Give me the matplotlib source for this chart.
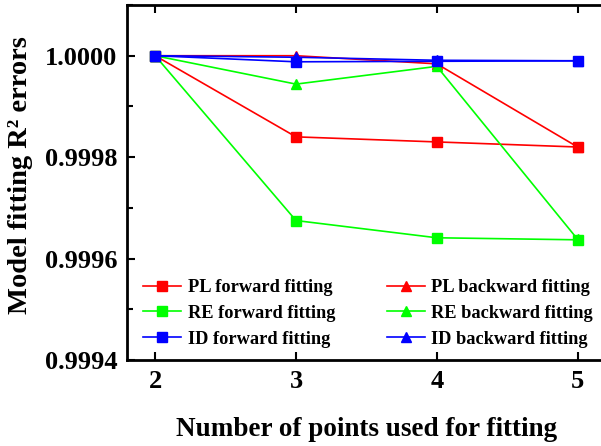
import matplotlib
matplotlib.use("Agg")
import matplotlib.pyplot as plt
from matplotlib.ticker import MultipleLocator

plt.rcParams['font.family'] = ['Liberation Serif', 'DejaVu Serif']
plt.rcParams['font.weight'] = 'bold'

points = [2, 3, 4, 5]
pl_forward = [1.0, 0.99984, 0.99983, 0.99982]
pl_backward = [1.0, 1.0, 0.999984, 0.99982]
re_forward = [1.0, 0.999675, 0.999641, 0.999637]
re_backward = [1.0, 0.999944, 0.999979, 0.999638]
id_forward = [1.0, 0.999988, 0.999989, 0.99999]
id_backward = [1.0, 0.999997, 0.999991, 0.99999]

fig = plt.figure(figsize=(6.01, 4.46), dpi=100)
ax = fig.add_axes([127/601, 86/446, 483/601, 355/446])

series = [
    (pl_forward, 'red', 's', 'PL forward fitting'),
    (pl_backward, 'red', '^', 'PL backward fitting'),
    (re_forward, '#00ff00', 's', 'RE forward fitting'),
    (re_backward, '#00ff00', '^', 'RE backward fitting'),
    (id_forward, 'blue', 's', 'ID forward fitting'),
    (id_backward, 'blue', '^', 'ID backward fitting'),
]
for vals, col, mk, lab in series:
    ax.plot(points, vals, color=col, marker=mk, markersize=7.5, linewidth=1.2, label=lab)

ax.set_xlim(1.8, 5.23)
ax.set_ylim(0.9994, 1.0001)
ax.set_xticks(points)
ax.yaxis.set_major_locator(MultipleLocator(0.0002))
ax.yaxis.set_minor_locator(MultipleLocator(0.0001))
ax.set_yticklabels([f'{v:.4f}' for v in ax.get_yticks()])
ax.tick_params(which='both', direction='in', top=True, right=True, width=1.5)
ax.tick_params(which='major', length=6, labelsize=19)
ax.tick_params(axis='y', which='major', pad=7)
ax.tick_params(axis='x', which='major', pad=7)
ax.tick_params(which='minor', length=4)
for s in ax.spines.values():
    s.set_linewidth(2)

ax.set_xlabel('Number of points used for fitting', fontsize=19.5, fontweight='bold')
ax.set_ylabel('Model fitting R² errors', fontsize=20.5, fontweight='bold')
ax.xaxis.set_label_coords(0.495, -0.16)
ax.yaxis.set_label_coords(-0.194, 0.52)

handles, labels = ax.get_legend_handles_labels()
order = [0, 2, 4, 1, 3, 5]
ax.legend([handles[i] for i in order], [labels[i] for i in order], ncol=2,
          loc='lower left', bbox_to_anchor=(0.033, 0.035), frameon=False,
          fontsize=13.2, handlelength=2.1, handletextpad=0.35, columnspacing=2.8,
          labelspacing=0.48, borderpad=0, borderaxespad=0)

fig.savefig('out.png', dpi=100)
